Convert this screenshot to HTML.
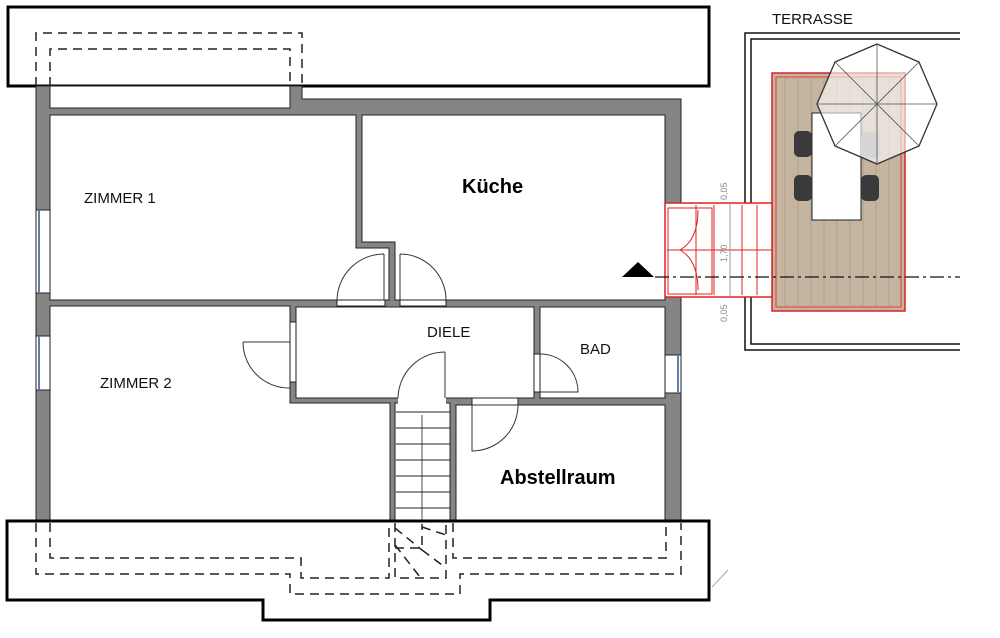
<!DOCTYPE html>
<html><head><style>body{margin:0;background:#fff}svg{display:block}</style></head><body>
<svg width="1000" height="638" viewBox="0 0 1000 638" xmlns="http://www.w3.org/2000/svg" font-family="Liberation Sans, sans-serif">
<rect x="8" y="7" width="701" height="79" fill="#fff" stroke="#000" stroke-width="3"/>
<path d="M36,86 V33 H302 V86" fill="none" stroke="#222" stroke-width="1.5" stroke-dasharray="9,6"/>
<path d="M50,86 V49 H290 V86" fill="none" stroke="#222" stroke-width="1.5" stroke-dasharray="9,6"/>
<polygon points="36,86 302,86 302,99 681,99 681,522 36,522" fill="#858585" stroke="#222" stroke-width="1"/>
<rect x="50" y="86" width="240" height="22" fill="#fff" stroke="#222" stroke-width="1"/>
<g fill="#fff" stroke="#222" stroke-width="1">
<polygon points="50,115 356,115 356,248 389,248 389,300 50,300"/>
<polygon points="362,115 665,115 665,300 395,300 395,242 362,242"/>
<polygon points="50,306 290,306 290,403 390,403 390,522 50,522"/>
<rect x="296" y="307" width="238" height="91"/>
<rect x="540" y="307" width="125" height="91"/>
<rect x="456" y="405" width="209" height="117"/>
<rect x="395" y="403" width="55" height="119"/>
<rect x="398" y="397" width="48" height="7" stroke="none"/>
<rect x="337" y="300" width="48" height="6"/>
<rect x="400" y="300" width="46" height="6"/>
<rect x="290" y="322" width="6" height="60"/>
<rect x="534" y="354" width="6" height="38"/>
<rect x="472" y="398" width="46" height="7"/>
<rect x="36" y="210" width="14" height="83"/>
<rect x="36" y="336" width="14" height="54"/>
<rect x="665" y="355" width="16" height="38"/>
</g>
<g stroke="#5a7fa8" stroke-width="2"><line x1="39" y1="210" x2="39" y2="293"/><line x1="39" y1="336" x2="39" y2="390"/><line x1="678" y1="355" x2="678" y2="393"/></g>
<g fill="none" stroke="#333" stroke-width="1">
<path d="M384,254 V300 M384,254 A47,47 0 0 0 337,300"/>
<path d="M400,254 V300 M400,254 A46,46 0 0 1 446,300"/>
<path d="M243,342 H290 M243,342 A46,46 0 0 0 290,388"/>
<path d="M445,352 V398 M445,352 A47,47 0 0 0 398,398"/>
<path d="M540,354 A38,38 0 0 1 578,392 H540"/>
<path d="M472,405 H518 A46,46 0 0 1 472,451 Z"/>
</g>
<g stroke="#222" stroke-width="1">
<line x1="396" y1="412" x2="450" y2="412"/><line x1="396" y1="428" x2="450" y2="428"/><line x1="396" y1="444" x2="450" y2="444"/><line x1="396" y1="460" x2="450" y2="460"/><line x1="396" y1="476" x2="450" y2="476"/><line x1="396" y1="492" x2="450" y2="492"/><line x1="396" y1="508" x2="450" y2="508"/>
<line x1="422" y1="415" x2="422" y2="580" stroke-width="0.8"/>
</g>
<polygon points="7,521 709,521 709,600 490,600 490,620 263,620 263,600 7,600" fill="#fff" stroke="#000" stroke-width="3"/>
<g fill="none" stroke="#222" stroke-width="1.5" stroke-dasharray="9,6">
<path d="M36,523 V574 H290 V594 H460 V574 H681 V523"/>
<path d="M50,523 V558 H301 V578 H389 V523"/>
<path d="M453,523 V558 H666 V523"/>
<path d="M395,523 V578 H446 V523 M395,528 L422,550 M395,545 L420,577 M422,527 L446,535 M422,550 L446,568 M395,548 H422 V524"/>
</g>
<line x1="712" y1="587" x2="728" y2="570" stroke="#aaa" stroke-width="1"/>
<text x="772" y="24" font-size="15" fill="#111">TERRASSE</text>
<path d="M960,33 H745 V350 H960" fill="none" stroke="#111" stroke-width="1.5"/>
<path d="M960,39 H751 V344 H960" fill="none" stroke="#111" stroke-width="1.5"/>
<rect x="772" y="73" width="133" height="238" fill="#c4b4a0" stroke="#e02020" stroke-width="1.5"/>
<rect x="776" y="77" width="125" height="230" fill="none" stroke="#e02020" stroke-width="0.8"/>
<g stroke="#b0a08c" stroke-width="1">
<line x1="785" y1="78" x2="785" y2="306"/><line x1="798" y1="78" x2="798" y2="306"/><line x1="811" y1="78" x2="811" y2="306"/><line x1="824" y1="78" x2="824" y2="306"/><line x1="837" y1="78" x2="837" y2="306"/><line x1="850" y1="78" x2="850" y2="306"/><line x1="863" y1="78" x2="863" y2="306"/><line x1="876" y1="78" x2="876" y2="306"/><line x1="889" y1="78" x2="889" y2="306"/>
</g>
<rect x="665" y="203" width="107" height="94" fill="#fff" stroke="#e02020" stroke-width="1.5"/>
<g stroke="#e02020" stroke-width="1" fill="none">
<rect x="668" y="208" width="44" height="86"/>
<line x1="696" y1="205" x2="696" y2="295"/><line x1="714" y1="205" x2="714" y2="295"/><line x1="742" y1="205" x2="742" y2="295"/><line x1="757" y1="205" x2="757" y2="295"/>
<line x1="667" y1="250" x2="772" y2="250"/>
<path d="M680,250 Q698,240 698,210 M680,250 Q698,260 698,290"/>
</g>
<text transform="translate(727,200) rotate(-90)" font-size="9" fill="#888">0,05</text>
<text transform="translate(727,262) rotate(-90)" font-size="9" fill="#888">1,70</text>
<text transform="translate(727,322) rotate(-90)" font-size="9" fill="#888">0,05</text>
<line x1="730" y1="203" x2="730" y2="297" stroke="#999" stroke-width="1"/>
<rect x="812" y="113" width="49" height="107" fill="#fff" stroke="#222" stroke-width="1"/>
<g fill="#3a3a3a"><rect x="794" y="131" width="18" height="26" rx="5"/><rect x="794" y="175" width="18" height="26" rx="5"/><rect x="861" y="175" width="18" height="26" rx="5"/><rect x="861" y="132" width="18" height="26" rx="5" fill="#999"/></g>
<polygon points="877,44 919,62 937,104 919,146 877,164 835,146 817,104 835,62" fill="rgba(255,255,255,0.6)" stroke="#333" stroke-width="1.3"/>
<g stroke="#555" stroke-width="0.8"><line x1="877" y1="44" x2="877" y2="164"/><line x1="817" y1="104" x2="937" y2="104"/><line x1="835" y1="62" x2="919" y2="146"/><line x1="919" y1="62" x2="835" y2="146"/></g>
<line x1="655" y1="277" x2="960" y2="277" stroke="#111" stroke-width="1.2" stroke-dasharray="14,4,3,4"/>
<polygon points="622,277 638,262 654,277" fill="#000"/>
<g fill="#111" font-size="15"><text x="84" y="203">ZIMMER 1</text><text x="100" y="388">ZIMMER 2</text><text x="427" y="337">DIELE</text><text x="580" y="354">BAD</text></g>
<text x="462" y="193" font-size="20" font-weight="bold" fill="#000">Küche</text>
<text x="500" y="484" font-size="20" font-weight="bold" fill="#000">Abstellraum</text>
</svg>
</body></html>
